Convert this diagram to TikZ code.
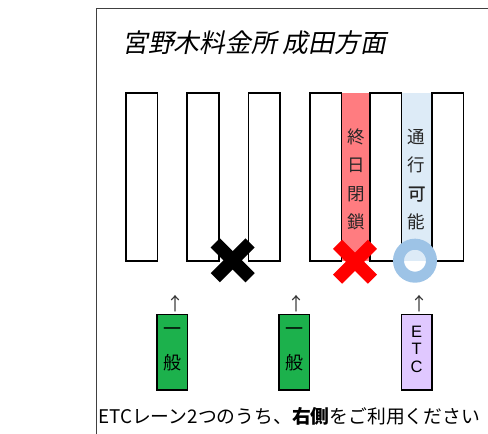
\documentclass[tikz,border=0pt]{standalone}
\usepackage{fontspec}
\setmainfont{Noto Sans CJK JP}
\newfontfamily\jpslant[FakeSlant=0.2]{Noto Sans CJK JP}
\newfontfamily\jpmed[FakeBold=1.2]{Noto Sans CJK JP}
\newfontfamily\latinsans{Liberation Sans}
\definecolor{lanered}{HTML}{FF7C80}
\definecolor{laneblue}{HTML}{DDEBF7}
\definecolor{ringblue}{HTML}{9DC3E6}
\definecolor{boxgreen}{HTML}{1CB14C}
\definecolor{boxlilac}{HTML}{E0C8FF}
\definecolor{framegray}{HTML}{404040}
\tikzset{
  booth/.style={draw=black, line width=1.6pt, fill=white, minimum width=31.6pt, minimum height=168pt, inner sep=0pt},
  lanefill/.style={minimum height=168pt, inner sep=0pt},
  lanetext/.style={align=center, font=\fontsize{17.5}{28.5}\selectfont, text=black!85, inner sep=0pt},
  entrybox/.style={draw=black, line width=1.6pt, minimum width=30.6pt, minimum height=75.7pt, inner sep=0pt},
  uparrow/.style={font=\fontsize{18}{18}\selectfont, text=black!80, inner sep=0pt},
  cross/.style={line width=13pt, line cap=butt},
}
\begin{document}
\begin{tikzpicture}[x=1pt,y=-1pt]
\useasboundingbox (0,0) rectangle (488,434);
% frame
\draw[framegray, line width=1pt] (96,434) -- (96,8) -- (488,8);
% title
\node[anchor=west, inner sep=0pt, font=\fontsize{25.8}{25.8}\selectfont\jpslant] (title) at (122,43) {宮野木料金所 成田方面};
% lane fills
\node[lanefill, fill=lanered, minimum width=28.3pt] (redlane) at (355.85,176.7) {};
\node[lanefill, fill=laneblue, minimum width=30pt] (bluelane) at (416.7,176.7) {};
% booths
\node[booth] (b1) at (141.85,176.7) {};
\node[booth] (b2) at (203,176.7) {};
\node[booth] (b3) at (264.35,176.7) {};
\node[booth] (b4) at (325.85,176.7) {};
\node[booth] (b5) at (385.85,176.7) {};
\node[booth] (b6) at (447.5,176.7) {};
% lane texts
\node[lanetext] (closed) at (355.85,179.5) {終\\日\\閉\\鎖};
\node[lanetext] (open) at (416.7,179.5) {通\\行\\{\jpmed 可}\\能};
% marks
\coordinate (xblack) at (232.7,260.3);
\coordinate (xred) at (355,261.7);
\coordinate (oblue) at (415,260.7);
\draw[cross, black] ([shift={(-17.4,-17.4)}]xblack) -- ([shift={(17.4,17.4)}]xblack);
\draw[cross, black] ([shift={(-17.4,17.4)}]xblack) -- ([shift={(17.4,-17.4)}]xblack);
\draw[cross, red] ([shift={(-17.4,-17.4)}]xred) -- ([shift={(17.4,17.4)}]xred);
\draw[cross, red] ([shift={(-17.4,17.4)}]xred) -- ([shift={(17.4,-17.4)}]xred);
\draw[ringblue, line width=11pt] (oblue) circle (16.5);
% arrows
\node[uparrow] (a1) at (175,303.5) {↑};
\node[uparrow] (a2) at (296.7,303.5) {↑};
\node[uparrow] (a3) at (419.3,303.5) {↑};
% entry boxes
\node[entrybox, fill=boxgreen] (g1) at (172,352.2) {};
\node[entrybox, fill=boxgreen] (g2) at (294.2,352.2) {};
\node[entrybox, fill=boxlilac] (etc) at (416.7,352.2) {};
\node[align=center, inner sep=0pt, font=\fontsize{18}{34}\selectfont] (g1t) at (172,349) {一\\般};
\node[align=center, inner sep=0pt, font=\fontsize{18}{34}\selectfont] (g2t) at (294.2,349) {一\\般};
\node[align=center, inner sep=0pt, font=\fontsize{16.5}{17.6}\selectfont\latinsans] (etct) at (416.7,349.3) {E\\T\\C};
% bottom text
\node[inner sep=0pt, font=\fontsize{18.8}{18.8}\selectfont] (note) at (289.2,416.7) {ETCレーン2つのうち、{\bfseries 右側}をご利用ください};
\end{tikzpicture}
\end{document}
